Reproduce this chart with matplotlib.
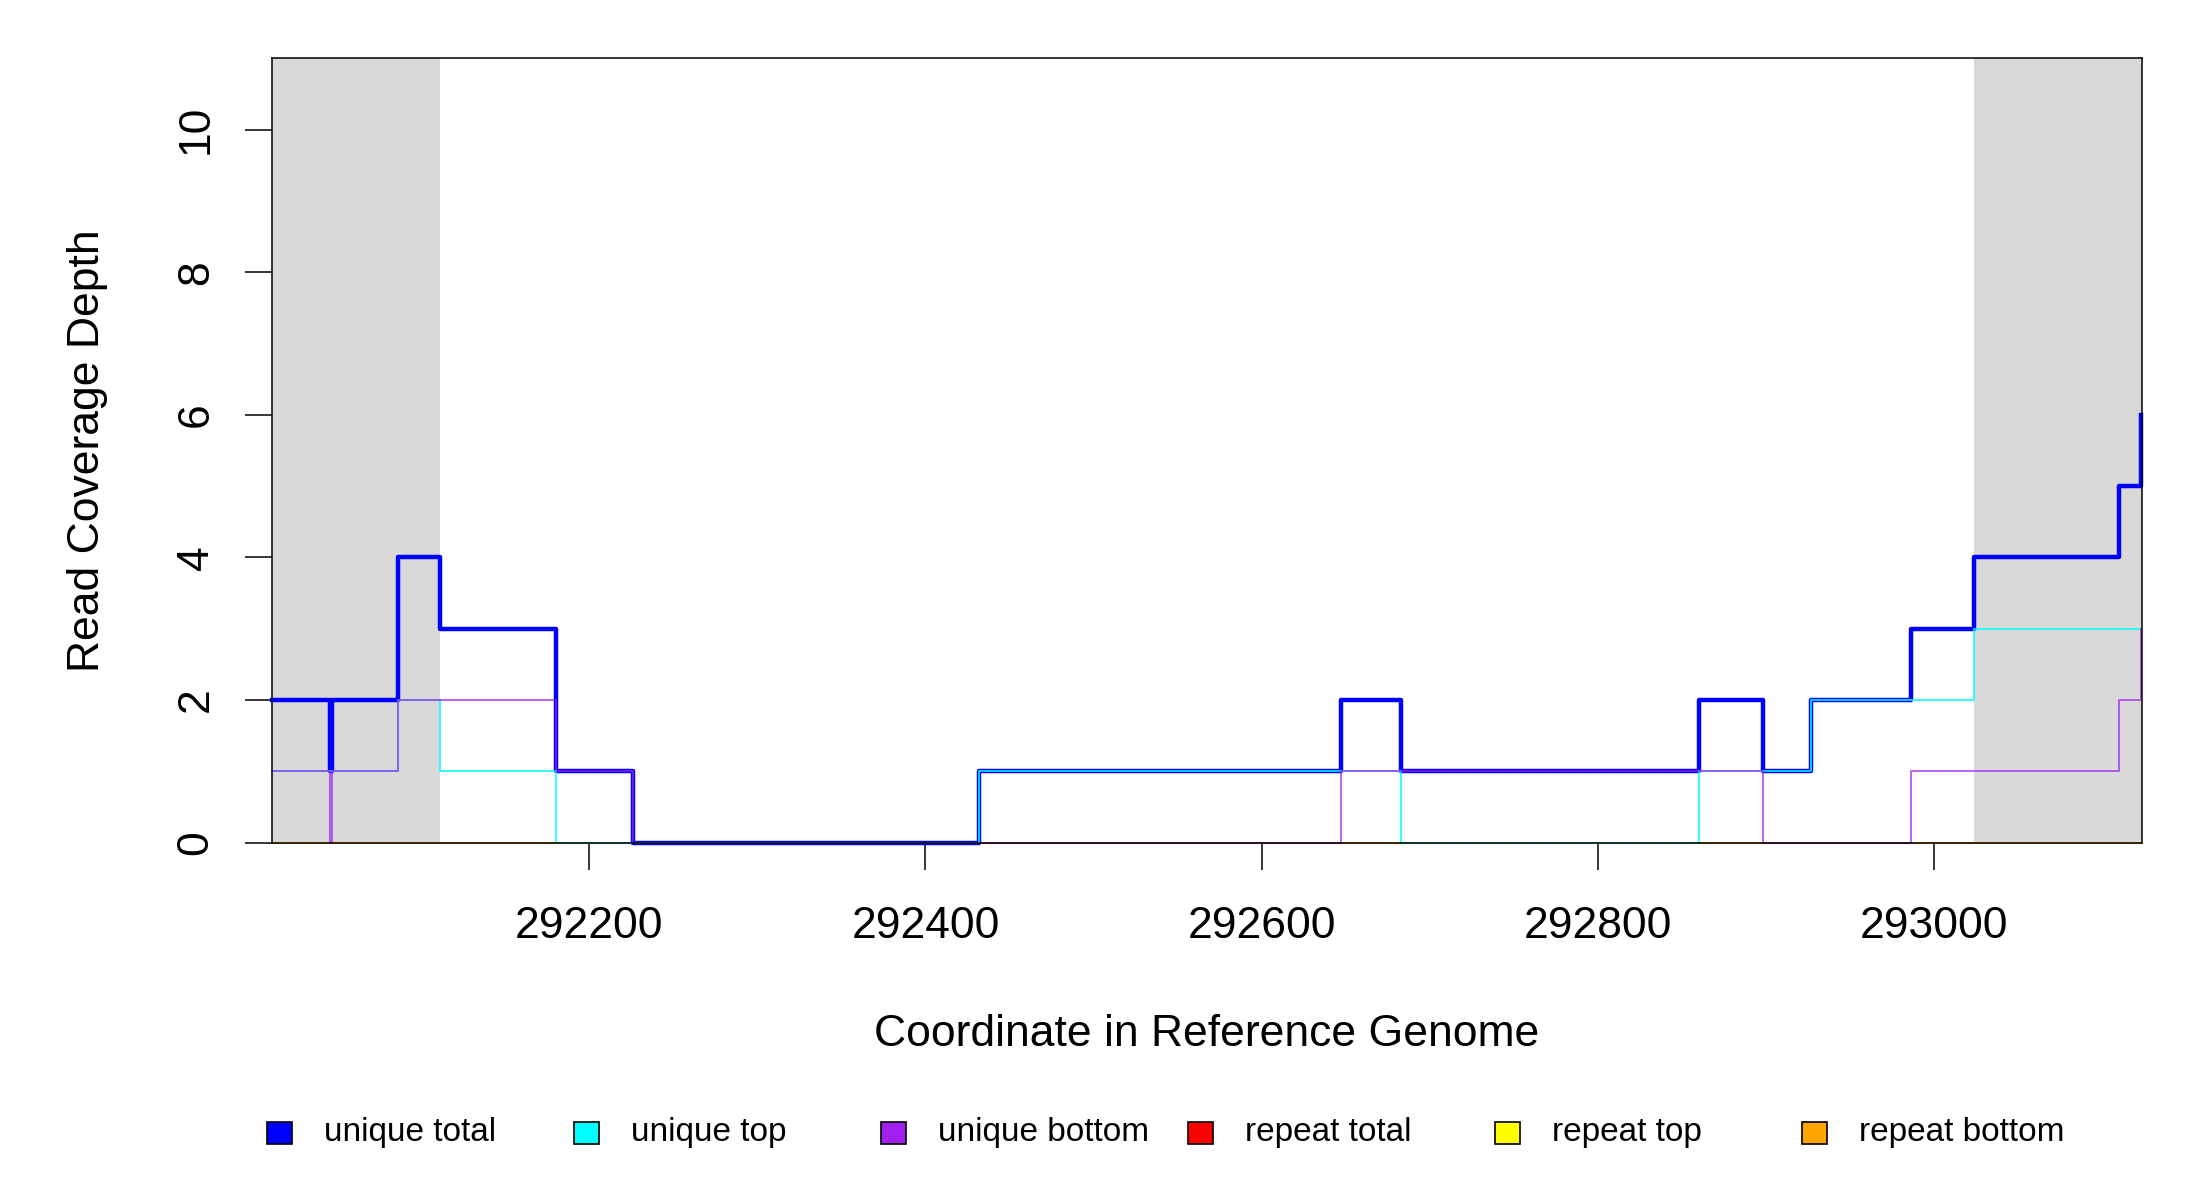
import matplotlib
matplotlib.use("Agg")
import matplotlib.pyplot as plt
from matplotlib.patches import Rectangle

plt.rcParams['font.family'] = ['Liberation Sans', 'DejaVu Sans']

# step start positions (bp) and coverage
positions = [292011, 292046, 292047, 292086, 292111, 292180, 292226, 292432,
             292647, 292683, 292860, 292898, 292927, 292986, 293024, 293110, 293123]
unique_total = [2, 1, 2, 4, 3, 1, 0, 1, 2, 1, 2, 1, 2, 3, 4, 5, 6]
unique_top = [1, 1, 1, 2, 1, 0, 0, 1, 1, 0, 1, 1, 2, 2, 3, 3, 3]
unique_bottom = [1, 0, 1, 2, 2, 1, 0, 0, 1, 1, 1, 0, 0, 1, 1, 2, 3]
repeat_total = [0, 0, 0, 0, 0, 0, 0, 0, 0, 0, 0, 0, 0, 0, 0, 0, 0]
repeat_top = [0, 0, 0, 0, 0, 0, 0, 0, 0, 0, 0, 0, 0, 0, 0, 0, 0]
repeat_bottom = [0, 0, 0, 0, 0, 0, 0, 0, 0, 0, 0, 0, 0, 0, 0, 0, 0]

# flanking regions shaded grey
flanks = [(292011, 292111), (293024, 293124)]
xlim = (292011, 293123.5)
ylim = (0, 11)
xticks = [292200, 292400, 292600, 292800, 293000]
yticks = [0, 2, 4, 6, 8, 10]

legend_labels = ['unique total', 'unique top', 'unique bottom',
                 'repeat total', 'repeat top', 'repeat bottom']
legend_colors = ['blue', 'cyan', '#A020F0', 'red', 'yellow', 'orange']

W, H = 2200, 1200
fig = plt.figure(figsize=(22, 12), dpi=100)
ax = fig.add_axes([271.5 / W, 1 - 842.7 / H, (2141.7 - 271.5) / W, (842.7 - 58.3) / H])

for a, b in flanks:
    ax.axvspan(a, b, color='#d9d9d9', lw=0, zorder=0)

ax.plot(positions, repeat_total, drawstyle='steps-post', color='red', lw=1.4, clip_on=False)
ax.plot(positions, repeat_top, drawstyle='steps-post', color='yellow', lw=1.4, clip_on=False)
ax.plot(positions, repeat_bottom, drawstyle='steps-post', color='orange', lw=1.4, clip_on=False)
ax.plot(positions, unique_total, drawstyle='steps-post', color='blue', lw=3.2, clip_on=False)
ax.plot(positions, unique_top, drawstyle='steps-post', color='cyan', lw=1.4, alpha=0.8, clip_on=False)
ax.plot(positions, unique_bottom, drawstyle='steps-post', color='#A020F0', lw=1.4, alpha=0.7, clip_on=False)

ax.set_xlim(*xlim)
ax.set_ylim(*ylim)
ax.set_xticks(xticks)
ax.set_xticklabels([str(t) for t in xticks])
ax.set_yticks(yticks)
ax.set_yticklabels([str(t) for t in yticks], rotation=90, va='center')
ax.tick_params(axis='both', length=19.5, width=1.1, labelsize=32, color='black')
ax.tick_params(axis='x', pad=26)
ax.tick_params(axis='y', pad=20)
for s in ax.spines.values():
    s.set_linewidth(1.1)
    s.set_zorder(3)

fig.text(1206.6 / W, 1 - 1034 / H, 'Coordinate in Reference Genome', fontsize=32,
         ha='center', va='center')
fig.text(87.5 / W, 1 - 450.5 / H, 'Read Coverage Depth', fontsize=32,
         ha='center', va='center', rotation=90)

# legend in one row under the plot
for i, (lab, col) in enumerate(zip(legend_labels, legend_colors)):
    x0 = 267 + i * 307
    fig.patches.append(Rectangle((x0 / W, 1 - 1144 / H), 25 / W, 22 / H,
                                 transform=fig.transFigure, facecolor=col,
                                 edgecolor='black', lw=1.2))
    fig.text((x0 + 57) / W, 1 - 1133 / H, lab, fontsize=24, ha='left', va='center')

fig.savefig('out.png', dpi=100)
